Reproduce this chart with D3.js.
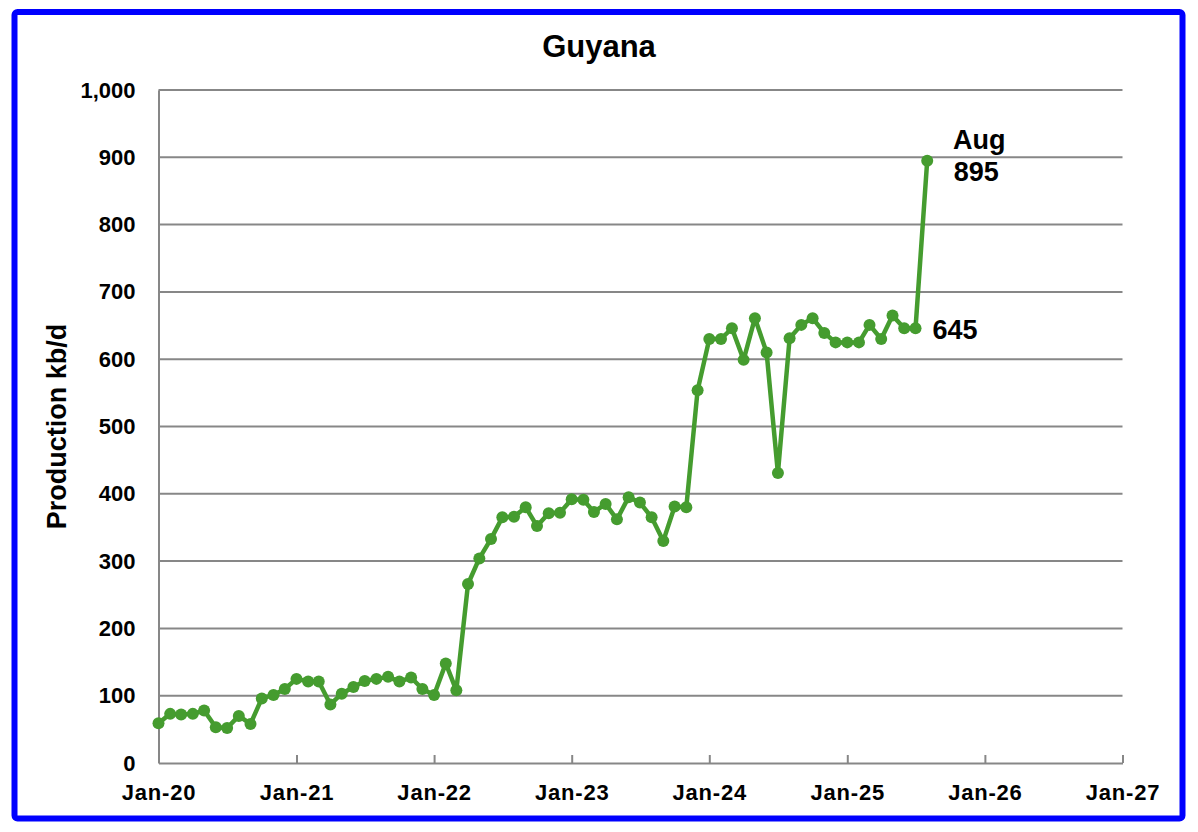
<!DOCTYPE html>
<html>
<head>
<meta charset="utf-8">
<script src="https://cdn.jsdelivr.net/npm/d3@7"></script>
<style>
  html, body { margin: 0; padding: 0; background: #fff; }
  svg { display: block; font-family: "Liberation Sans", Arial, sans-serif; }
</style>
</head>
<body>
<svg id="chart" width="1198" height="832"></svg>
<script>
// ---- data ----
const startMonth = "2020-01";
const production = [
  // 2020
  59, 73, 72, 73, 78, 53, 52, 70, 58, 96, 101, 110,
  // 2021
  125, 121, 121, 87, 103, 113, 122, 125, 128, 121, 127, 110,
  // 2022
  101, 148, 108, 266, 304, 333, 365, 366, 380, 352, 371, 372,
  // 2023
  392, 391, 373, 385, 362, 395, 387, 365, 330, 381, 380, 554,
  // 2024
  630, 630, 646, 599, 661, 610, 431, 631, 651, 661, 639, 625,
  // 2025
  625, 625, 651, 630, 665, 646, 646, 895
];
const yTicks = [0, 100, 200, 300, 400, 500, 600, 700, 800, 900, 1000];
const xTickYears = [2020, 2021, 2022, 2023, 2024, 2025, 2026, 2027];
const titleText = "Guyana";
const yTitle = "Production kb/d";
const annoLast = ["Aug", "895"];
const annoPrev = "645";

// ---- build ----
const parse = d3.timeParse("%Y-%m");
const start = parse(startMonth);
const data = production.map((v, i) => ({ date: d3.timeMonth.offset(start, i), value: v }));

const svg = d3.select("#chart");
const green = "#459C2F";
const grid = "#878787";
const FONT = "Liberation Sans, Arial, sans-serif";

const x = d3.scaleTime()
  .domain([new Date(2020, 0, 1), new Date(2027, 0, 1)])
  .range([158.5, 1122.5]);
const y = d3.scaleLinear().domain([0, 1000]).range([763, 90]);

// outer blue frame
svg.append("rect")
  .attr("x", 14.5).attr("y", 12).attr("width", 1168).attr("height", 806.5)
  .attr("rx", 3).attr("fill", "none").attr("stroke", "#0000FF").attr("stroke-width", 6);

// title
svg.append("text")
  .attr("x", 599).attr("y", 57)
  .attr("text-anchor", "middle")
  .attr("font-size", 31).attr("font-weight", "bold")
  .text(titleText);

// gridlines
svg.append("g")
  .selectAll("line")
  .data(yTicks.filter(d => d > 0))
  .join("line")
  .attr("x1", x.range()[0]).attr("x2", x.range()[1])
  .attr("y1", d => y(d)).attr("y2", d => y(d))
  .attr("stroke", grid).attr("stroke-width", 2);

// y axis
const yAxis = d3.axisLeft(y).tickValues(yTicks).tickSize(0).tickPadding(23)
  .tickFormat(d3.format(","));
const gy = svg.append("g").attr("transform", `translate(${x.range()[0]},0)`).call(yAxis);
gy.attr("font-size", null).attr("font-family", null);
gy.select(".domain").attr("stroke", grid).attr("stroke-width", 2);
gy.selectAll("text")
  .style("font-size", "22px").style("font-weight", "bold")
  .style("font-family", FONT).attr("fill", "#000");

// x axis
const xAxis = d3.axisBottom(x)
  .tickValues(xTickYears.map(yr => new Date(yr, 0, 1)))
  .tickFormat(d3.timeFormat("%b-%y"))
  .tickSizeInner(-8).tickSizeOuter(0).tickPadding(21);
const gx = svg.append("g").attr("transform", `translate(0,${y(0)})`).call(xAxis);
gx.attr("font-size", null).attr("font-family", null);
gx.select(".domain").attr("stroke", grid).attr("stroke-width", 2);
gx.selectAll(".tick line").attr("stroke", grid).attr("stroke-width", 2);
gx.selectAll("text")
  .style("font-size", "22px").style("font-weight", "bold")
  .style("letter-spacing", "0.8px")
  .style("font-family", FONT).attr("fill", "#000");

// y title
svg.append("text")
  .attr("transform", `translate(66,${(y(0) + y(1000)) / 2}) rotate(-90)`)
  .attr("text-anchor", "middle")
  .attr("font-size", 27).attr("font-weight", "bold")
  .text(yTitle);

// line
const line = d3.line().x(d => x(d.date)).y(d => y(d.value));
svg.append("path").datum(data)
  .attr("d", line).attr("fill", "none")
  .attr("stroke", green).attr("stroke-width", 4.5).attr("stroke-linejoin", "round");

svg.append("g").selectAll("circle").data(data).join("circle")
  .attr("cx", d => x(d.date)).attr("cy", d => y(d.value))
  .attr("r", 6).attr("fill", green);

// annotations
const last = data[data.length - 1];
const prev = data[data.length - 2];
const ann = svg.append("text")
  .attr("text-anchor", "middle")
  .attr("font-size", 27).attr("font-weight", "bold");
ann.append("tspan").attr("x", x(last.date) + 52).attr("y", y(last.value) - 12).text(annoLast[0]);
ann.append("tspan").attr("x", x(last.date) + 49).attr("y", y(last.value) + 20).text(annoLast[1]);

svg.append("text")
  .attr("x", x(prev.date) + 17).attr("y", y(prev.value) + 11)
  .attr("font-size", 27).attr("font-weight", "bold")
  .text(annoPrev);
</script>
</body>
</html>
